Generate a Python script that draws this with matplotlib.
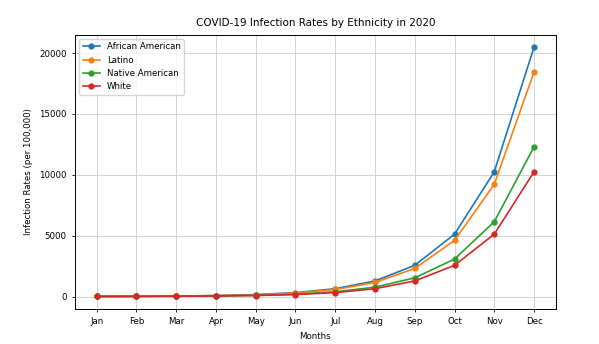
import matplotlib.pyplot as plt

months = ['Jan', 'Feb', 'Mar', 'Apr', 'May', 'Jun', 'Jul', 'Aug', 'Sep', 'Oct', 'Nov', 'Dec']
african_american = [10, 20, 40, 80, 160, 320, 640, 1280, 2560, 5120, 10240, 20480]
latino = [9, 18, 36, 72, 144, 288, 576, 1152, 2304, 4608, 9216, 18432]
native_american = [6, 12, 24, 48, 96, 192, 384, 768, 1536, 3072, 6144, 12288]
white = [5, 10, 20, 40, 80, 160, 320, 640, 1280, 2560, 5120, 10240]

fig = plt.figure(figsize=(5.99, 3.44), dpi=100)
ax = fig.add_axes([0.125, 0.102, 0.803, 0.797])

ax.plot(months, african_american, marker='o', markersize=3.5, linewidth=1.2, label='African American')
ax.plot(months, latino, marker='o', markersize=3.5, linewidth=1.2, label='Latino')
ax.plot(months, native_american, marker='o', markersize=3.5, linewidth=1.2, label='Native American')
ax.plot(months, white, marker='o', markersize=3.5, linewidth=1.2, label='White')

ax.set_title('COVID-19 Infection Rates by Ethnicity in 2020', fontsize=7.5)
ax.set_xlabel('Months', fontsize=6.2)
ax.set_ylabel('Infection Rates (per 100,000)', fontsize=6.2)
ax.tick_params(labelsize=6.2, length=2.5, width=0.6)
for s in ax.spines.values():
    s.set_linewidth(0.7)
ax.grid(True, linewidth=0.6, color='#cccccc')
ax.legend(fontsize=6.2, loc='upper left')

plt.savefig('out.png', dpi=100)
